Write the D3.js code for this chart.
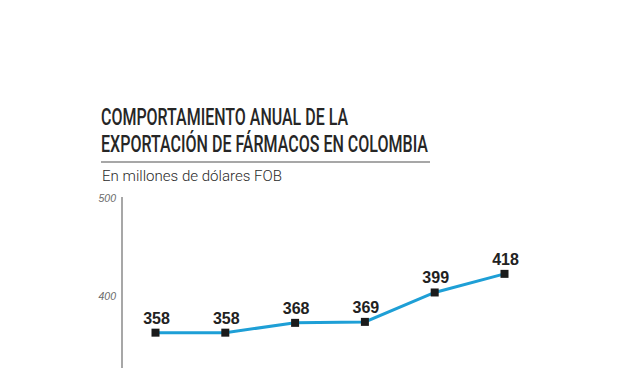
<!DOCTYPE html>
<html><head><meta charset="utf-8">
<script src="https://cdn.jsdelivr.net/npm/d3@7"></script>
<style>html,body{margin:0;padding:0;background:#fff;}svg{display:block;}</style>
</head><body>
<script>
const titleLines = ["COMPORTAMIENTO ANUAL DE LA", "EXPORTACIÓN DE FÁRMACOS EN COLOMBIA"];
const subtitle = "En millones de dólares FOB";
const years = ["2012", "2013", "2014", "2015", "2016", "2017"];
const values = [358, 358, 368, 369, 399, 418];
const yTicks = [400, 500];

const W = 640, H = 368;
const svg = d3.select("body").append("svg").attr("width", W).attr("height", H);

// Title
const titleWidths = [247, 327];
const titleBase = [124.5, 152];
titleLines.forEach((t, i) => {
  svg.append("text").attr("x", 101).attr("y", titleBase[i])
    .attr("font-family", "Roboto, 'Liberation Sans', sans-serif")
    .attr("font-size", 24.5).attr("font-weight", 500).attr("fill", "#262626")
    .attr("textLength", titleWidths[i]).attr("lengthAdjust", "spacingAndGlyphs")
    .text(t);
});
svg.append("line").attr("x1", 101).attr("x2", 430).attr("y1", 162).attr("y2", 162)
  .attr("stroke", "#8a8a8a").attr("stroke-width", 1.5);
svg.append("text").attr("x", 102).attr("y", 181)
  .attr("font-family", "Roboto, 'Liberation Sans', sans-serif")
  .attr("font-size", 15.5).attr("font-weight", 300).attr("fill", "#2a2a2a")
  .attr("textLength", 180).attr("lengthAdjust", "spacingAndGlyphs")
  .text(subtitle);

// Scales
const x = d3.scalePoint().domain(years).range([155.5, 504.5]);
const y = d3.scaleLinear().domain([400, 500]).range([291.5, 193.5]);

// Y axis
const axisG = svg.append("g").attr("transform", "translate(122,0)");
axisG.call(d3.axisLeft(y).tickValues(yTicks).tickSize(0).tickPadding(6));
axisG.select(".domain").remove();
axisG.append("line").attr("x1", 0).attr("x2", 0).attr("y1", 197).attr("y2", H)
  .attr("stroke", "#8a8a8a").attr("stroke-width", 1.5);
axisG.selectAll(".tick text")
  .attr("font-family", "'Liberation Sans', Arial, sans-serif")
  .attr("font-style", "italic").attr("font-size", 10.5).attr("fill", "#6a6a6a")
  .attr("dy", "0.75em");

// Line
const line = d3.line().x((d, i) => x(years[i])).y(d => y(d));
svg.append("path").datum(values).attr("d", line)
  .attr("fill", "none").attr("stroke", "#1e9fd6").attr("stroke-width", 3);

// Markers
svg.selectAll("rect.m").data(values).enter().append("rect").attr("class", "m")
  .attr("x", (d, i) => x(years[i]) - 4).attr("y", d => y(d) - 4)
  .attr("width", 8).attr("height", 8).attr("fill", "#1b1b1b");

// Labels
svg.selectAll("text.v").data(values).enter().append("text").attr("class", "v")
  .attr("x", (d, i) => x(years[i]) + 1).attr("y", d => y(d) - 9)
  .attr("text-anchor", "middle")
  .attr("font-family", "'Liberation Sans', Arial, sans-serif")
  .attr("font-weight", "bold").attr("font-size", 16).attr("fill", "#222")
  .text(d => d);
</script>
</body></html>
